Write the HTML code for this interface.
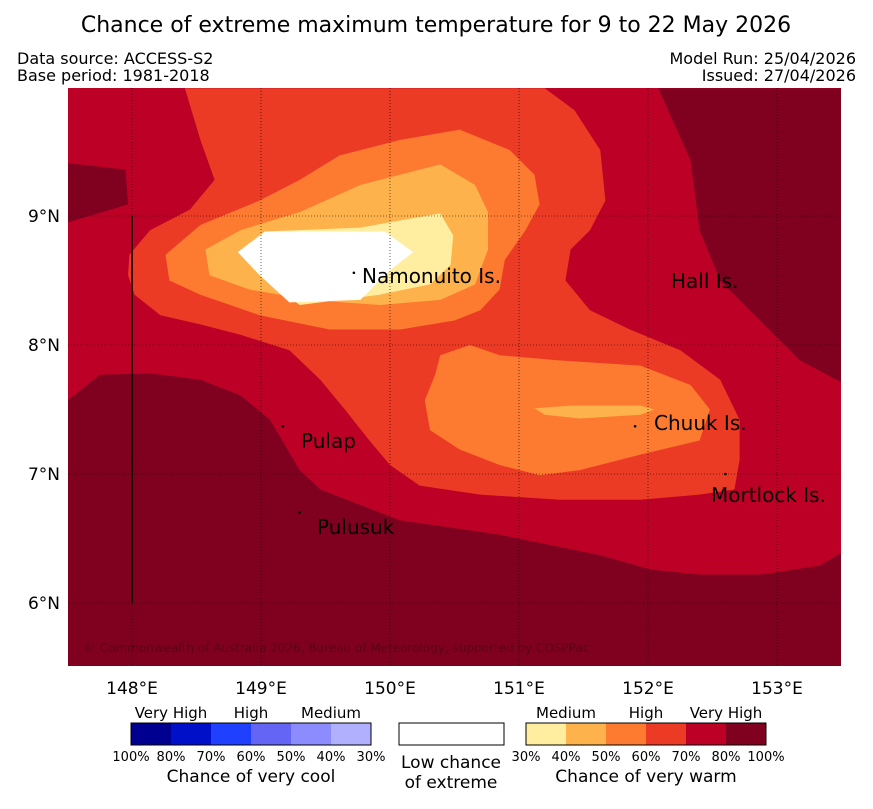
<!DOCTYPE html>
<html><head><meta charset="utf-8">
<style>
body{margin:0;background:#fff;font-family:"Liberation Sans","DejaVu Sans",sans-serif;}
svg text{font-family:"DejaVu Sans","Liberation Sans",sans-serif;}
</style></head>
<body>
<svg id="chart" width="873" height="804" xmlns="http://www.w3.org/2000/svg">
<text x="436" y="32" font-size="22" text-anchor="middle">Chance of extreme maximum temperature for 9 to 22 May 2026</text>
<text x="17" y="64" font-size="16">Data source: ACCESS-S2</text>
<text x="17" y="81" font-size="16">Base period: 1981-2018</text>
<text x="856" y="64" font-size="16" text-anchor="end">Model Run: 25/04/2026</text>
<text x="856" y="81" font-size="16" text-anchor="end">Issued: 27/04/2026</text>
<defs><clipPath id="mapclip"><rect x="68" y="88" width="773" height="578"/></clipPath></defs>
<g id="map" clip-path="url(#mapclip)"></g>
<g id="axes"></g>
<g id="legend"></g>
</svg>
<script>
const lonTicks=[148,149,150,151,152,153];
const latTicks=[6,7,8,9];
const levelColors=["#ffeda0","#feb24c","#fd7b30","#ec3b25","#bd0026","#800020"];
const coolColors=["#000090","#0010c8","#2040ff","#6464f5","#8c8cff","#b0b0ff"];
const coolLabels=["100%","80%","70%","60%","50%","40%","30%"];
const warmLabels=["30%","40%","50%","60%","70%","80%","100%"];
const darkNE=[[152.08,9.99],[153.5,9.99],[153.5,7.71],[153.18,7.88],[152.87,8.19],[152.56,8.5],[152.4,8.89],[152.33,9.43]];
const darkNW=[[147.5,9.41],[147.95,9.36],[147.97,9.09],[147.5,8.95]];
const darkS=[[147.5,7.57],[147.75,7.77],[148.14,7.78],[148.53,7.73],[148.84,7.61],[149.07,7.42],[149.3,7.03],[149.46,6.88],[150.08,6.64],[150.85,6.53],[151.63,6.37],[152.02,6.26],[152.4,6.22],[152.87,6.22],[153.33,6.29],[153.5,6.39],[153.5,5.5],[147.5,5.5]];
const lvl60=[[148.41,9.99],[151.2,9.99],[151.43,9.82],[151.63,9.51],[151.67,9.12],[151.55,8.89],[151.4,8.74],[151.36,8.5],[151.55,8.27],[151.86,8.12],[152.25,7.96],[152.56,7.73],[152.71,7.42],[152.71,7.11],[152.67,6.88],[152.4,6.84],[151.94,6.8],[151.32,6.8],[150.7,6.84],[150.23,6.91],[150.0,7.07],[149.84,7.26],[149.65,7.5],[149.46,7.73],[149.22,7.96],[148.84,8.08],[148.53,8.16],[148.22,8.23],[148.02,8.39],[147.97,8.54],[147.98,8.7],[148.14,8.89],[148.45,9.05],[148.64,9.28],[148.53,9.59]];
const lvl50a=[[148.26,8.7],[148.53,8.93],[148.99,9.12],[149.3,9.28],[149.61,9.47],[150.08,9.59],[150.54,9.67],[150.93,9.51],[151.12,9.32],[151.16,9.09],[151.05,8.89],[150.89,8.66],[150.85,8.43],[150.7,8.27],[150.5,8.19],[150.08,8.12],[149.53,8.12],[148.99,8.23],[148.53,8.39],[148.29,8.5]];
const lvl50b=[[150.39,7.92],[150.62,8.0],[150.85,7.92],[151.32,7.88],[151.94,7.84],[152.33,7.69],[152.48,7.5],[152.4,7.26],[151.94,7.15],[151.47,7.03],[151.16,6.99],[150.85,7.07],[150.54,7.19],[150.31,7.34],[150.27,7.57],[150.35,7.77]];
const lvl40a=[[148.57,8.74],[148.84,8.89],[149.3,9.03],[149.77,9.24],[150.39,9.4],[150.66,9.24],[150.76,9.03],[150.76,8.74],[150.66,8.47],[150.39,8.35],[149.92,8.31],[149.38,8.35],[148.91,8.43],[148.6,8.54]];
const lvl40b=[[151.12,7.51],[151.4,7.53],[151.94,7.53],[152.05,7.5],[151.94,7.46],[151.47,7.43],[151.2,7.46]];
const lvl30=[[148.84,8.7],[149.03,8.88],[149.77,8.91],[150.39,9.02],[150.49,8.85],[150.47,8.62],[150.31,8.47],[149.92,8.39],[149.3,8.31],[148.99,8.54]];
const lowChance=[[148.82,8.72],[149.03,8.88],[149.96,8.88],[150.18,8.72],[150.0,8.58],[149.77,8.35],[149.22,8.33],[148.99,8.54]];
const places=[["Namonuito Is.",149.72,8.56,362,283],["Hall Is.",152.55,8.5,671,288],["Chuuk Is.",151.9,7.37,654,430],["Mortlock Is.",152.6,7.0,711,502],["Pulap",149.17,7.37,301,448],["Pulusuk",149.3,6.7,317,534]];

const X=lon=>132+(lon-148)*129;
const Y=lat=>216-(lat-9)*129;
const NS="http://www.w3.org/2000/svg";
function mk(tag,attrs,parent){const e=document.createElementNS(NS,tag);for(const k in attrs)e.setAttribute(k,attrs[k]);parent.appendChild(e);return e;}
const map=document.getElementById('map');
const bg=mk('rect',{x:68,y:88,width:773,height:578,fill:levelColors[4]},map);


function poly(pts,fill,name){const p=mk('polygon',{points:pts.map(q=>X(q[0]).toFixed(1)+','+Y(q[1]).toFixed(1)).join(' '),fill:fill},map);

}
poly(darkNE,levelColors[5],'contour-80-100-ne');
poly(darkNW,levelColors[5],'contour-80-100-nw');
poly(darkS,levelColors[5],'contour-80-100-south');
poly(lvl60,levelColors[3],'contour-60-70');
poly(lvl50a,levelColors[2],'contour-50-60-north');
poly(lvl50b,levelColors[2],'contour-50-60-south');
poly(lvl40a,levelColors[1],'contour-40-50-north');
poly(lvl40b,levelColors[1],'contour-40-50-south');
poly(lvl30,levelColors[0],'contour-30-40');
poly(lowChance,'#ffffff','contour-low-chance');
lonTicks.forEach(l=>{const g=mk('line',{x1:X(l),x2:X(l),y1:88,y2:666,stroke:'#000','stroke-width':0.6,'stroke-dasharray':'1,2'},map);

});
latTicks.forEach(l=>{const g=mk('line',{x1:68,x2:841,y1:Y(l),y2:Y(l),stroke:'#000','stroke-width':0.6,'stroke-dasharray':'1,2'},map);

});
const vl=mk('line',{x1:X(148),x2:X(148),y1:Y(9),y2:Y(6),stroke:'#000','stroke-width':1.5},map);


places.forEach(p=>{const d=mk('circle',{cx:X(p[1]),cy:Y(p[2]),r:1.3,fill:'#000'},map);


const t=mk('text',{x:p[3],y:p[4],'font-size':20,fill:'#000'},map);t.textContent=p[0];

});
const cp=mk('text',{x:84,y:652,'font-size':12,fill:'#000','fill-opacity':0.3},map);cp.textContent='© Commonwealth of Australia 2026, Bureau of Meteorology, supported by COSPPac';


const ax=document.getElementById('axes');
lonTicks.forEach(l=>{const t=mk('text',{x:X(l),y:694,'font-size':17,'text-anchor':'middle'},ax);t.textContent=l+'°E';

});
latTicks.forEach(l=>{const t=mk('text',{x:60,y:Y(l)+6,'font-size':17,'text-anchor':'end'},ax);t.textContent=l+'°N';

});
const lg=document.getElementById('legend');
function bar(x0,colors,labels,names,title){
 colors.forEach((c,i)=>{const r=mk('rect',{x:x0+i*40,y:723,width:40,height:22,fill:c},lg);
 
 });
 const o=mk('rect',{x:x0,y:723,width:240,height:22,fill:'none',stroke:'#000','stroke-width':1},lg);
 
 
 labels.forEach((s,i)=>{const t=mk('text',{x:x0+i*40,y:761,'font-size':13,'text-anchor':'middle'},lg);t.textContent=s;
 
 });
 names.forEach((s,i)=>{const t=mk('text',{x:x0+40+i*80,y:718,'font-size':15,'text-anchor':'middle'},lg);t.textContent=s;
 
 });
 const tt=mk('text',{x:x0+120,y:782,'font-size':17,'text-anchor':'middle'},lg);tt.textContent=title;
 
 
}
bar(131,coolColors,coolLabels,["Very High","High","Medium"],"Chance of very cool");
bar(526,levelColors,warmLabels,["Medium","High","Very High"],"Chance of very warm");
const wb=mk('rect',{x:399,y:723,width:105,height:22,fill:'#fff',stroke:'#000','stroke-width':1},lg);


const l1=mk('text',{x:451,y:768,'font-size':17,'text-anchor':'middle'},lg);l1.textContent='Low chance';


const l2=mk('text',{x:451,y:788,'font-size':17,'text-anchor':'middle'},lg);l2.textContent='of extreme';


</script>
</body></html>
